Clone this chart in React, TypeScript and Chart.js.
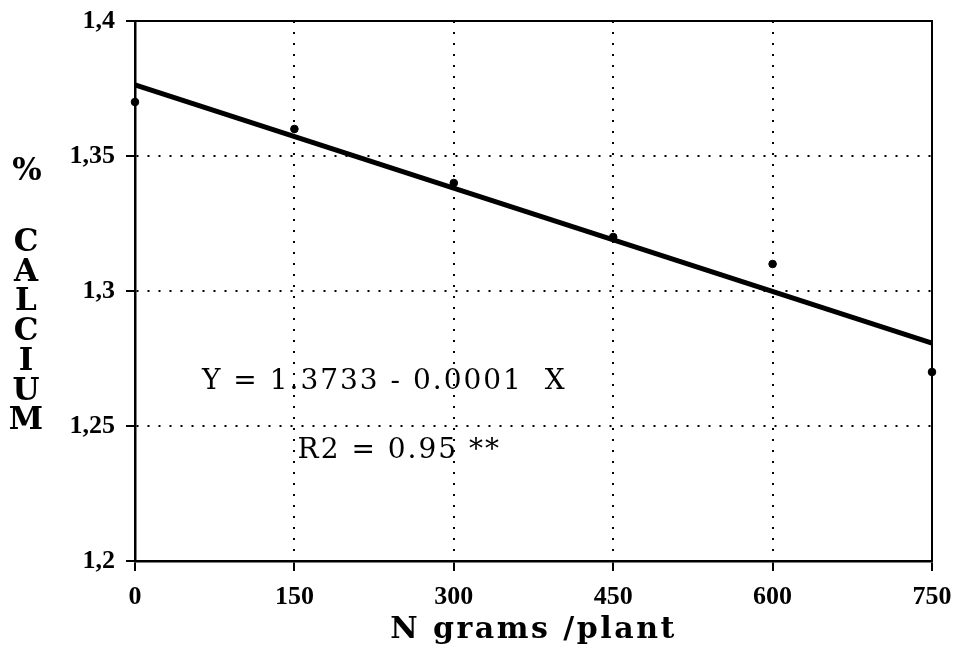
import React, { useEffect, useRef } from "react";
import { Chart, registerables } from "chart.js";

Chart.register(...registerables);

// ---- data ----
const nGrams = [0, 150, 300, 450, 600, 750];
const calcium = [1.37, 1.36, 1.34, 1.32, 1.31, 1.27];
const fitX = [0, 750];
const fitY = [1.3763, 1.2807];
const xTicks = [0, 150, 300, 450, 600, 750];
const yTicks = [1.2, 1.25, 1.3, 1.35, 1.4];
const equationText = "Y = 1.3733 - 0.0001  X";
const r2Text = "R2 = 0.95 **";
const equationPos = { x: 63, y: 1.2663 };
const r2Pos = { x: 153, y: 1.2407 };
const yTitleTop = "%";
const yTitleLetters = ["C", "A", "L", "C", "I", "U", "M"];
const xTitle = "N grams /plant";

const SERIF = "'DejaVu Serif', serif";
const TICKFONT = "'Liberation Serif', serif";

const overlayPlugin = {
  id: "overlay",
  afterDraw(chart: any) {
    const { ctx, chartArea, scales } = chart;
    ctx.save();
    // top & right frame
    ctx.strokeStyle = "#000";
    ctx.lineWidth = 2;
    ctx.beginPath();
    ctx.moveTo(chartArea.left, chartArea.top);
    ctx.lineTo(chartArea.right, chartArea.top);
    ctx.lineTo(chartArea.right, chartArea.bottom);
    ctx.stroke();

    ctx.fillStyle = "#000";
    // annotations
    ctx.font = `28px ${SERIF}`;
    (ctx as any).letterSpacing = "2px";
    ctx.textAlign = "left";
    ctx.textBaseline = "middle";
    ctx.fillText(equationText, scales.x.getPixelForValue(equationPos.x), scales.y.getPixelForValue(equationPos.y));
    ctx.fillText(r2Text, scales.x.getPixelForValue(r2Pos.x), scales.y.getPixelForValue(r2Pos.y));

    // y title stacked
    (ctx as any).letterSpacing = "0px";
    ctx.font = `bold 31px ${SERIF}`;
    ctx.textAlign = "center";
    ctx.fillText(yTitleTop, 27, 172);
    yTitleLetters.forEach((l, i) => {
      ctx.fillText(l, 26, 243 + i * 29.7);
    });

    // x title
    ctx.font = `bold 30px ${SERIF}`;
    (ctx as any).letterSpacing = "2.5px";
    ctx.textAlign = "center";
    ctx.fillText(xTitle, (chartArea.left + chartArea.right) / 2, 630);
    ctx.restore();
  },
};

export default function App() {
  const ref = useRef<HTMLCanvasElement>(null);
  useEffect(() => {
    if (!ref.current) return;
    const chart = new Chart(ref.current, {
      type: "scatter",
      data: {
        datasets: [
          {
            type: "line",
            data: fitX.map((x, i) => ({ x, y: fitY[i] })),
            borderColor: "#000",
            borderWidth: 5,
            pointRadius: 0,
            fill: false,
            clip: false as any,
          },
          {
            data: nGrams.map((x, i) => ({ x, y: calcium[i] })),
            backgroundColor: "#000",
            borderColor: "#000",
            pointRadius: 3.8,
            pointStyle: "circle",
            clip: false as any,
          },
        ],
      },
      plugins: [overlayPlugin],
      options: {
        responsive: false,
        animation: false,
        layout: { padding: { top: 21, right: 23, left: 0, bottom: 0 } },
        plugins: { legend: { display: false }, tooltip: { enabled: false } },
        scales: {
          x: {
            type: "linear",
            min: 0,
            max: 750,
            afterBuildTicks: (s: any) => {
              s.ticks = xTicks.map((v) => ({ value: v }));
            },
            afterFit: (s: any) => {
              s.height = 93;
              s.paddingLeft = 0;
              s.paddingRight = 0;
            },
            ticks: {
              color: "#000",
              font: { family: TICKFONT, weight: "bold", size: 26 },
              padding: 11,
              maxRotation: 0,
              callback: (v: any) => String(v),
            },
            grid: {
              color: "#000",
              lineWidth: 2,
              tickLength: 10,
              tickColor: "#000",
              tickWidth: 2,
            },
            border: { display: true, color: "#000", width: 2.5, dash: [2, 9] },
          },
          y: {
            type: "linear",
            min: 1.2,
            max: 1.4,
            afterBuildTicks: (s: any) => {
              s.ticks = yTicks.map((v) => ({ value: v }));
            },
            afterFit: (s: any) => {
              s.width = 135;
              s.paddingTop = 0;
              s.paddingBottom = 0;
            },
            ticks: {
              color: "#000",
              font: { family: TICKFONT, weight: "bold", size: 26 },
              padding: 11,
              callback: (v: any) => String(Math.round(Number(v) * 100) / 100).replace(".", ","),
            },
            grid: {
              color: "#000",
              lineWidth: 2,
              tickLength: 9,
              tickColor: "#000",
              tickWidth: 2,
            },
            border: { display: true, color: "#000", width: 2.5, dash: [2, 9] },
          },
        },
      },
    } as any);
    return () => chart.destroy();
  }, []);
  return (
    <div style={{ position: "absolute", left: 0, top: 0, width: 955, height: 654, background: "#fff" }}>
      <canvas ref={ref} width={955} height={654} style={{ display: "block" }} />
    </div>
  );
}
